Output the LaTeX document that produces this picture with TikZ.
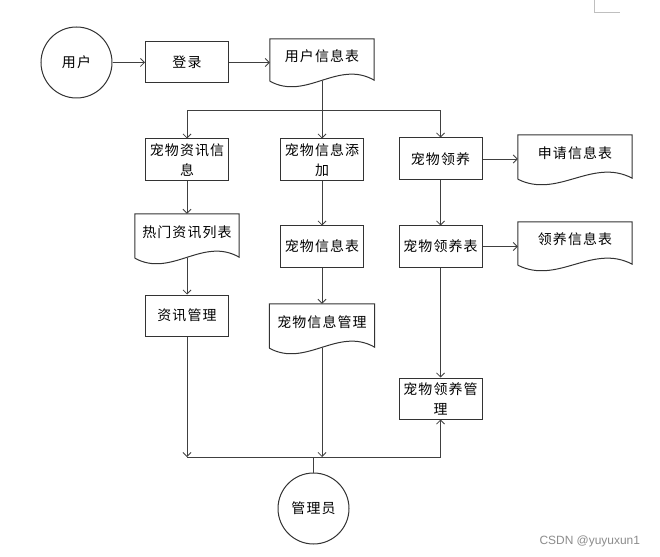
\documentclass[tikz,border=0pt]{standalone}
\usepackage{fontspec}
\setmainfont{Noto Sans CJK SC}
\newfontfamily\cjkfont[LetterSpace=8]{Noto Sans CJK SC}
\newfontfamily\wmfont{Liberation Sans}
\usetikzlibrary{arrows.meta,calc}
\newcommand\docoutline[1]{%
  \draw[boxline] (#1.south west) -- (#1.north west) -- (#1.north east) -- ($(#1.south east)+(0,-1)$)
    .. controls ($(#1.south west)!0.65!(#1.south east)+(0,-22)$) and ($(#1.south west)!0.35!(#1.south east)+(0,20)$) .. (#1.south west);}
\begin{document}
\begin{tikzpicture}[x=1bp,y=-1bp,
  every node/.style={font=\cjkfont\fontsize{14}{20}\selectfont, text=black},
  boxline/.style={draw=black!80, line width=1bp},
  procbox/.style={boxline, rectangle, minimum width=83bp, minimum height=41bp, inner sep=0pt, align=center},
  circ/.style={boxline, circle, minimum size=71bp, inner sep=0pt},
  docnode/.style={rectangle, inner sep=0pt, align=center, text height=11bp, text depth=8bp},
  conn/.style={draw=black!75, line width=0.8bp},
  arr/.style={conn, -{Straight Barb[length=4bp,width=8bp]}},
]
\fill[white] (0,0) rectangle (660,557);
\useasboundingbox (0,0) rectangle (660,557);

% page corner mark
\draw[black!25, line width=0.8bp] (594,0) -- (594,12) -- (620,12);

% nodes
\node[circ] (user) at (76.5,62.5) {用户};
\node[procbox] (login) at (187,62.5) {登录};
\node[docnode, minimum width=104bp, minimum height=42bp] (info) at (322,60) {用户信息表};
\docoutline{info}

\node[procbox, minimum height=42bp] (a1) at (187,160) {宠物资讯信\\息};
\node[procbox, minimum height=42bp] (b1) at (322,160) {宠物信息添\\加};
\node[procbox, minimum height=42bp] (c1) at (440.5,159) {宠物领养};

\node[docnode, minimum width=104bp, minimum height=44bp] (a2) at (187,236) {热门资讯列表};
\docoutline{a2}
\node[procbox] (b2) at (322,246.5) {宠物信息表};
\node[procbox] (c2) at (440.5,246.5) {宠物领养表};

\node[docnode, minimum width=114bp, minimum height=44bp] (d1) at (575,157) {申请信息表};
\docoutline{d1}
\node[docnode, minimum width=114bp, minimum height=43bp] (d2) at (575,243.5) {领养信息表};
\docoutline{d2}

\node[procbox] (a3) at (187,315.5) {资讯管理};
\node[docnode, minimum width=105bp, minimum height=44bp] (b3) at (322,326) {宠物信息管理};
\docoutline{b3}
\node[procbox] (c3) at (440.5,398.5) {宠物领养管\\理};

\node[circ] (admin) at (313.5,508.5) {管理员};

% connectors
\draw[arr] (user) -- (login);
\draw[arr] (login.east) -- (login.east -| info.west);
\coordinate (j1) at (322,110);
\draw[conn] (info.south) -- (j1);
\draw[conn] (a1.north |- j1) -- (c1.north |- j1);
\draw[arr] (j1) -| (a1.north);
\draw[arr] (j1) -- (b1.north);
\draw[arr] (j1) -| (c1.north);

\draw[arr] (a1) -- (a2);
\draw[arr] (a2.south) -- (a3.north);
\draw[arr] (b1) -- (b2);
\draw[arr] (b2) -- (b3.north);
\draw[arr] (c1) -- (c2);
\draw[arr] (c2) -- (c3);
\draw[arr] (c1.east) -- (c1.east -| d1.west);
\draw[arr] (c2.east) -- (c2.east -| d2.west);

\coordinate (k1) at (187,457);
\coordinate (k2) at (322,457);
\coordinate (k3) at (440.5,457);
\coordinate (j2) at (313.5,457);
\draw[conn] (k1) -- (k3);
\draw[arr] (a3) -- (k1);
\draw[arr] (b3.south) -- (k2);
\draw[arr] (k3) -- (c3);
\draw[conn] (admin) -- (j2);

\node[font=\wmfont\fontsize{12}{14}\selectfont, text=black!45, anchor=west] (wm) at (536,541) {CSDN @yuyuxun1};
\end{tikzpicture}
\end{document}
